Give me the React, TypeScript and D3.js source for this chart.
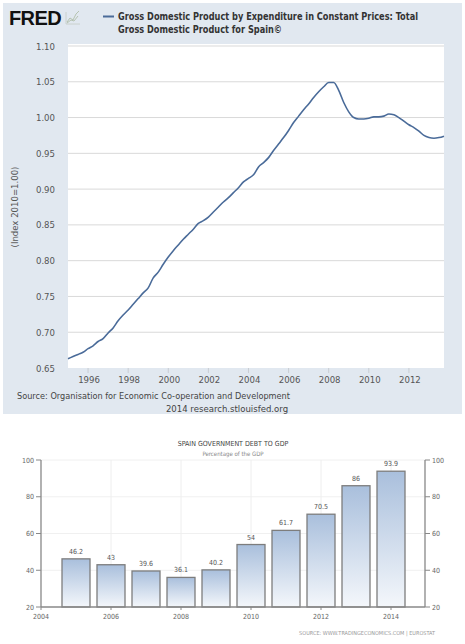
import React from 'react';
import * as d3 from 'd3';

// FRED: Spain real GDP index (2010=1.00), quarterly 1995Q1..2013Q4
const gdpStartYear = 1995;
const gdpIndex = [
  0.663, 0.666, 0.669, 0.672,
  0.677, 0.681, 0.687, 0.691,
  0.699, 0.706, 0.716, 0.724,
  0.731, 0.739, 0.747, 0.755,
  0.762, 0.776, 0.784, 0.795,
  0.805, 0.814, 0.822, 0.830,
  0.837, 0.844, 0.852, 0.856,
  0.861, 0.868, 0.875, 0.882,
  0.888, 0.895, 0.902, 0.910,
  0.915, 0.920, 0.931, 0.937,
  0.944, 0.954, 0.963, 0.972,
  0.982, 0.993, 1.002, 1.011,
  1.019, 1.028, 1.036, 1.043,
  1.049, 1.049, 1.038, 1.021,
  1.008, 1.000, 0.998, 0.998,
  0.999, 1.001, 1.001, 1.002,
  1.005, 1.004, 1.000, 0.995,
  0.990, 0.986, 0.981, 0.975,
  0.972, 0.971, 0.972, 0.974,
];
const gdpYTicks = [0.65, 0.70, 0.75, 0.80, 0.85, 0.90, 0.95, 1.00, 1.05, 1.10];
const gdpXTicks = [1996, 1998, 2000, 2002, 2004, 2006, 2008, 2010, 2012];

// Trading Economics: Spain government debt to GDP
const debtYears = [2005, 2006, 2007, 2008, 2009, 2010, 2011, 2012, 2013, 2014];
const debtValues = [46.2, 43, 39.6, 36.1, 40.2, 54, 61.7, 70.5, 86, 93.9];
const debtLabels = ['46.2', '43', '39.6', '36.1', '40.2', '54', '61.7', '70.5', '86', '93.9'];
const debtYTicks = [20, 40, 60, 80, 100];
const debtXTicks = [2004, 2006, 2008, 2010, 2012, 2014];

const FONT = '"DejaVu Sans Condensed", "DejaVu Sans", Verdana, sans-serif';

function FredChart() {
  const x = d3.scaleLinear().domain([1995, 2013.75]).range([68, 444]);
  const y = d3.scaleLinear().domain([0.65, 1.10]).range([368, 46]);
  const pts = gdpIndex.map((v, i) => ({ t: gdpStartYear + i / 4, v }));
  const line = d3.line<{ t: number; v: number }>()
    .x(d => x(d.t))
    .y(d => y(d.v))
    .curve(d3.curveMonotoneX);

  return (
    <g>
      <rect x={3} y={3} width={459} height={411} fill="#e1e8f0" />
      {/* logo */}
      <text x={9} y={25} fontFamily="Liberation Sans, Arial, sans-serif" fontWeight="bold"
        fontSize={20} letterSpacing={-0.6} fill="#111">FRED</text>
      <g stroke="#a9b9a0" fill="none" strokeWidth={0.8}>
        <path d="M66,24 L80,24 M66,24 L66,12" stroke="#c4ccc4" />
        <path d="M67,22 L70,18 L73,20 L76,14 L79,11" />
        <path d="M67,23 L71,20 L74,21 L78,16" />
      </g>
      {/* legend */}
      <line x1={103} x2={114} y1={16.5} y2={16.5} stroke="#4a6b99" strokeWidth={2} />
      <text fontFamily={FONT} fontWeight="bold" fontSize={10} fill="#333">
        <tspan x={118} y={20} textLength={300} lengthAdjust="spacingAndGlyphs">Gross Domestic Product by Expenditure in Constant Prices: Total</tspan>
        <tspan x={118} y={33} textLength={164} lengthAdjust="spacingAndGlyphs">Gross Domestic Product for Spain©</tspan>
      </text>
      {/* plot area */}
      <rect x={68} y={44} width={376} height={324} fill="#ffffff" />
      {gdpYTicks.map(t => (
        <g key={t}>
          {t > 0.65 && (
            <line x1={68} x2={444} y1={y(t)} y2={y(t)} stroke="#d9d9d9" strokeWidth={1} />
          )}
          <text x={55} y={y(t) + 3.5} textAnchor="end" fontFamily={FONT} fontSize={9.5} fill="#555">
            {t.toFixed(2)}
          </text>
        </g>
      ))}
      {gdpXTicks.map(t => (
        <g key={t}>
          <line x1={x(t)} x2={x(t)} y1={368} y2={373} stroke="#c8ccd2" strokeWidth={1} />
          <text x={x(t) + 1} y={383} textAnchor="middle" fontFamily={FONT} fontSize={9.5} fill="#555">
            {t}
          </text>
        </g>
      ))}
      <text transform="translate(18,207) rotate(-90)" textAnchor="middle" fontFamily={FONT}
        fontSize={9.5} fill="#555">(Index 2010=1.00)</text>
      <path d={line(pts) || ''} fill="none" stroke="#4a6b99" strokeWidth={1.6} />
      <text x={17} y={399} fontFamily={FONT} fontSize={9.5} fill="#444"
        textLength={273} lengthAdjust="spacingAndGlyphs">
        Source: Organisation for Economic Co-operation and Development
      </text>
      <text x={227} y={412} textAnchor="middle" fontFamily={FONT} fontSize={9.5} fill="#444">
        2014 research.stlouisfed.org
      </text>
    </g>
  );
}

function DebtChart() {
  const x = d3.scaleLinear().domain([2004, 2015]).range([41, 426]);
  const y = d3.scaleLinear().domain([20, 100]).range([607, 460]);
  const barW = 28;

  return (
    <g>
      <defs>
        <linearGradient id="barFill" x1="0" y1="0" x2="0" y2="1">
          <stop offset="0%" stopColor="#a9bfdc" />
          <stop offset="100%" stopColor="#f4f7fb" />
        </linearGradient>
      </defs>
      <text x={233} y={446} textAnchor="middle" fontFamily={FONT} fontSize={7} fill="#444">
        SPAIN GOVERNMENT DEBT TO GDP
      </text>
      <text x={233} y={456} textAnchor="middle" fontFamily={FONT} fontSize={6} fill="#888">
        Percentage of the GDP
      </text>
      {debtYTicks.map(t => (
        <g key={t}>
          {t > 20 && <line x1={41} x2={425} y1={y(t)} y2={y(t)} stroke="#f0f0f0" strokeWidth={1} />}
          <line x1={36} x2={41} y1={y(t)} y2={y(t)} stroke="#888" strokeWidth={1} />
          <line x1={425} x2={430} y1={y(t)} y2={y(t)} stroke="#888" strokeWidth={1} />
          <text x={34} y={y(t) + 2.5} textAnchor="end" fontFamily={FONT} fontSize={7} fill="#666">{t}</text>
          <text x={432} y={y(t) + 2.5} textAnchor="start" fontFamily={FONT} fontSize={7} fill="#666">{t}</text>
        </g>
      ))}
      {debtXTicks.map(t => (
        <g key={t}>
          {t > 2004 && <line x1={x(t)} x2={x(t)} y1={460} y2={607} stroke="#eeeeee" strokeWidth={1} />}
          <line x1={x(t)} x2={x(t)} y1={607} y2={610} stroke="#888" strokeWidth={1} />
          <text x={x(t)} y={619} textAnchor="middle" fontFamily={FONT} fontSize={7} fill="#666">{t}</text>
        </g>
      ))}
      {debtYears.map((yr, i) => (
        <g key={yr}>
          <rect x={x(yr) - barW / 2} y={y(debtValues[i])} width={barW}
            height={y(20) - y(debtValues[i])} fill="url(#barFill)" stroke="#7d7d7d" strokeWidth={1.3} />
          <text x={x(yr)} y={y(debtValues[i]) - 5} textAnchor="middle" fontFamily={FONT}
            fontSize={7} fill="#555">{debtLabels[i]}</text>
        </g>
      ))}
      <line x1={41} x2={41} y1={460} y2={607} stroke="#888" strokeWidth={1.3} />
      <line x1={425} x2={425} y1={460} y2={607} stroke="#888" strokeWidth={1.3} />
      <line x1={41} x2={425} y1={607} y2={607} stroke="#888" strokeWidth={1.3} />
      <text x={435} y={635} textAnchor="end" fontFamily={FONT} fontSize={5.5} fill="#999">
        SOURCE: WWW.TRADINGECONOMICS.COM  |  EUROSTAT
      </text>
    </g>
  );
}

export default function App() {
  return (
    <div style={{ position: 'absolute', left: 0, top: 0 }}>
      <svg width={465} height={644} style={{ display: 'block', background: '#fff' }}>
        <FredChart />
        <DebtChart />
      </svg>
    </div>
  );
}
